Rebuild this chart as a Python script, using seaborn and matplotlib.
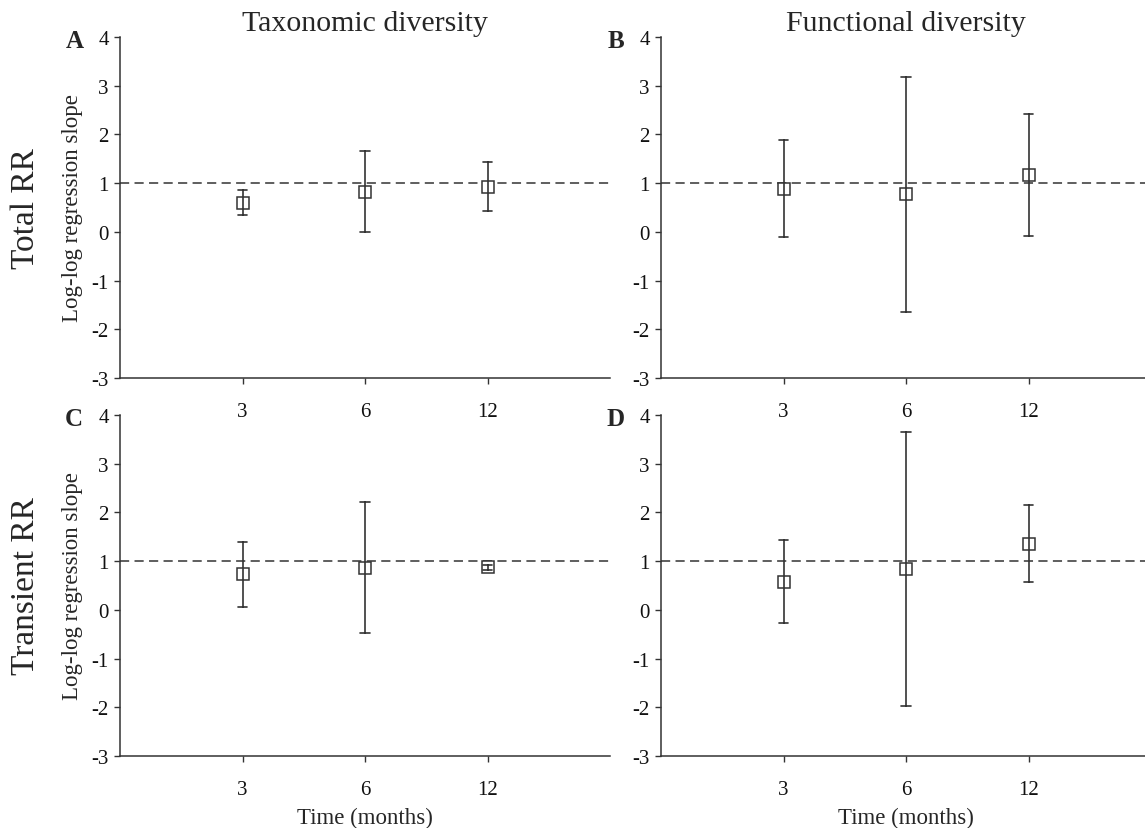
import pandas as pd
import matplotlib
matplotlib.use("Agg")
import matplotlib.pyplot as plt
import seaborn as sns

MONTHS = ["3", "6", "12"]

# slope estimate, lower and upper end of error bar for each panel
A_EST = [0.60, 0.82, 0.92]
A_LO = [0.34, 0.00, 0.42]
A_HI = [0.86, 1.66, 1.44]

B_EST = [0.89, 0.77, 1.17]
B_LO = [-0.11, -1.64, -0.08]
B_HI = [1.89, 3.17, 2.42]

C_EST = [0.73, 0.86, 0.87]
C_LO = [0.05, -0.48, 0.82]
C_HI = [1.40, 2.21, 0.92]

D_EST = [0.58, 0.84, 1.36]
D_LO = [-0.27, -1.97, 0.57]
D_HI = [1.44, 3.65, 2.16]

PANEL_LETTERS = ["A", "B", "C", "D"]
COL_TITLES = ["Taxonomic diversity", "Functional diversity"]
ROW_TITLES = ["Total RR", "Transient RR"]
REF_LINE = 1.0

INK = "#333333"


def long_frame(est, lo, hi):
    rows = []
    for m, e, l, h in zip(MONTHS, est, lo, hi):
        for v in (l, e, h):
            rows.append({"month": m, "value": v})
    return pd.DataFrame(rows)


sns.set_theme(style="ticks")
plt.rcParams["font.family"] = ["Liberation Serif", "DejaVu Serif"]
plt.rcParams["axes.unicode_minus"] = False
plt.rcParams["axes.edgecolor"] = INK
plt.rcParams["xtick.color"] = INK
plt.rcParams["ytick.color"] = INK
plt.rcParams["xtick.labelcolor"] = "#111111"
plt.rcParams["ytick.labelcolor"] = "#111111"

fig = plt.figure(figsize=(11.45, 8.29), dpi=100)
W, H = 1145, 829
boxes = [(120, 38), (661, 38), (120, 416), (661, 416)]
aw, ah = 490, 341

panels = [(A_EST, A_LO, A_HI), (B_EST, B_LO, B_HI),
          (C_EST, C_LO, C_HI), (D_EST, D_LO, D_HI)]

for i, ((x0, y0), (est, lo, hi)) in enumerate(zip(boxes, panels)):
    ax = fig.add_axes([x0 / W, 1 - (y0 + ah) / H, aw / W, ah / H])
    ax.patch.set_alpha(0)
    df = long_frame(est, lo, hi)
    ax.axhline(REF_LINE, color=INK, lw=1.1, dashes=(6, 3.5), zorder=1)
    sns.pointplot(data=df, x="month", y="value", order=MONTHS, ax=ax,
                  estimator="median", errorbar=("pi", 100), capsize=0.08,
                  color=INK, markers="s", linestyles="none",
                  markersize=8, markerfacecolor="white", markeredgewidth=1.1,
                  err_kws={"linewidth": 1.2})
    ax.set_xlim(-1, 3)
    ax.set_ylim(-3, 4)
    ax.set_yticks(range(-3, 5))
    sns.despine(ax=ax)
    for s in ("left", "bottom"):
        ax.spines[s].set_linewidth(1.1)
    ax.tick_params(axis="x", length=4, width=1, pad=13, labelsize=15)
    ax.tick_params(axis="y", length=4, width=1, pad=4, labelsize=15)
    ax.set_xlabel("")
    ax.set_ylabel("")
    row, col = divmod(i, 2)
    if col == 0:
        ax.set_ylabel("Log-log regression slope", fontsize=16.5, labelpad=6)
        fig.text(26 / W, 1 - (y0 + ah / 2) / H, ROW_TITLES[row],
                 rotation=90, ha="center", va="center", fontsize=24)
    if row == 0:
        ax.set_title(COL_TITLES[col], fontsize=21.5, pad=5)
    else:
        ax.set_xlabel("Time (months)", fontsize=16.5, labelpad=6)
    ax.text(-0.075, 0.99, PANEL_LETTERS[i], transform=ax.transAxes,
            fontsize=18, fontweight="bold", ha="right", va="center")

fig.savefig("out.png", dpi=100)
